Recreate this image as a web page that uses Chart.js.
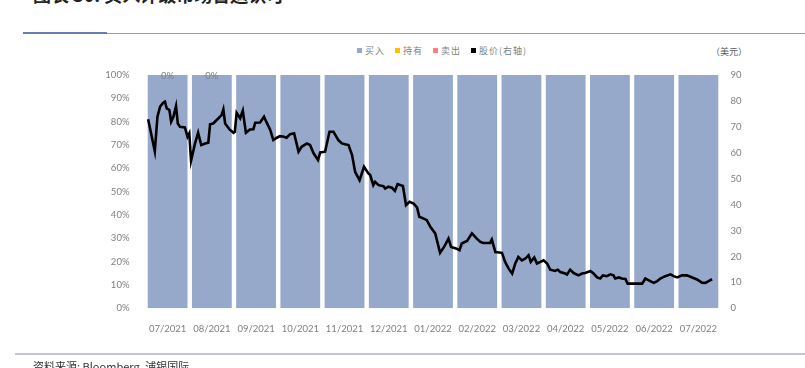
<!DOCTYPE html>
<html>
<head>
<meta charset="utf-8">
<script src="https://cdn.jsdelivr.net/npm/chart.js@4.4.0/dist/chart.umd.min.js"></script>
<style>
    body { margin: 0; width: 805px; height: 368px; overflow: hidden; background: #fff; position: relative; font-family: "Noto Sans CJK SC", sans-serif; }
    #c { position: absolute; left: 0; top: 0; }
    .title { position: absolute; left: 33px; top: -19px; font-size: 18px; font-weight: bold; color: #222; white-space: nowrap; }
    .rule-top { position: absolute; left: 23px; top: 33px; width: 782px; height: 1px; background: #8e9cc6; }
    .rule-top-dark { position: absolute; left: 23px; top: 32px; width: 84px; height: 2px; background: #6a7db3; }
    .rule-bottom { position: absolute; left: 15px; top: 353px; width: 790px; height: 2px; background: #c3c6dd; }
    .source { position: absolute; left: 33px; top: 358px; font-size: 11px; color: #333; white-space: nowrap; }
    .legend { position: absolute; left: 357px; top: 44px; display: flex; font-size: 9px; color: #7f7f7f; letter-spacing: 1px; }
    .legend span { display: flex; align-items: center; margin-right: 10px; }
    .legend i { display: inline-block; width: 5px; height: 5px; margin-right: 3px; }
    .unit { position: absolute; left: 711px; top: 45px; font-size: 9px; color: #595959; }
</style>
</head>
<body>
<div class="title">图表 30: 买入评级市场普遍认可</div>
<div class="rule-top"></div>
<div class="rule-top-dark"></div>
<div class="legend">
    <span><i style="background:#97a9ca"></i>买入</span>
    <span><i style="background:#ffc000"></i>持有</span>
    <span><i style="background:#ff7c80"></i>卖出</span>
    <span><i style="background:#000"></i>股价(右轴)</span>
</div>
<div class="unit">（美元）</div>
<canvas id="c" width="805" height="368"></canvas>
<div class="rule-bottom"></div>
<div class="source">资料来源: Bloomberg, 浦银国际</div>
<script>
const months = ['07/2021', '08/2021', '09/2021', '10/2021', '11/2021', '12/2021', '01/2022',
    '02/2022', '03/2022', '04/2022', '05/2022', '06/2022', '07/2022'];
const buyPct = [100, 100, 100, 100, 100, 100, 100, 100, 100, 100, 100, 100, 100];
const holdPct = [0, 0, 0, 0, 0, 0, 0, 0, 0, 0, 0, 0, 0];
const sellPct = [0, 0, 0, 0, 0, 0, 0, 0, 0, 0, 0, 0, 0];
const topLabels = ['0%', '0%', '', '', '', '', '', '', '', '', '', '', ''];

// share price, x in month units (0 = 07/2021)
const priceX = [-0.44, -0.29, -0.23, -0.17, -0.10, -0.06, -0.02, 0.04, 0.08, 0.13, 0.19, 0.23, 0.28, 0.39, 0.45, 0.49,
    0.53, 0.62, 0.69, 0.76, 0.85, 0.92, 0.96, 1.03, 1.15, 1.22, 1.26, 1.30, 1.40, 1.49, 1.52, 1.56, 1.64, 1.70, 1.77,
    1.86, 1.94, 1.98, 2.09, 2.18, 2.23, 2.32, 2.39, 2.47, 2.54, 2.63, 2.69, 2.77, 2.86, 2.96, 3.03, 3.15, 3.22, 3.30,
    3.40, 3.45, 3.56, 3.66, 3.75, 3.86, 3.94, 4.01, 4.09, 4.17, 4.24, 4.34, 4.44, 4.54, 4.58, 4.65, 4.69, 4.77, 4.88,
    4.92, 4.99, 5.07, 5.14, 5.20, 5.32, 5.39, 5.47, 5.56, 5.64, 5.69, 5.79, 5.86, 5.94, 6.05, 6.16, 6.25, 6.35, 6.41,
    6.52, 6.60, 6.65, 6.77, 6.88, 6.99, 7.07, 7.14, 7.29, 7.33, 7.41, 7.56, 7.63, 7.71, 7.79, 7.86, 7.93, 8.01, 8.09,
    8.16, 8.21, 8.29, 8.35, 8.43, 8.50, 8.58, 8.65, 8.76, 8.82, 8.88, 8.99, 9.03, 9.10, 9.18, 9.29, 9.37, 9.44, 9.56,
    9.63, 9.71, 9.78, 9.84, 9.93, 10.01, 10.08, 10.12, 10.20, 10.27, 10.35, 10.40, 10.54, 10.73, 10.80, 10.88, 10.99,
    11.07, 11.14, 11.25, 11.37, 11.44, 11.52, 11.63, 11.74, 11.86, 11.97, 12.08, 12.16, 12.23, 12.31];
const price = [72.9, 60.6, 73.9, 77.8, 79.3, 79.7, 77.1, 76.5, 72.0, 73.9, 78.0, 71.3, 70.0, 69.8, 66.2, 67.5,
    56.9, 63.6, 67.7, 63.0, 63.6, 63.9, 71.0, 71.3, 73.3, 74.5, 76.7, 71.3, 69.0, 67.7, 68.1, 75.4, 73.3, 76.2, 67.7,
    69.0, 69.1, 71.6, 71.7, 73.9, 72.0, 68.8, 64.9, 65.8, 66.4, 66.2, 65.8, 67.2, 67.5, 60.4, 62.3, 63.6, 63.0, 59.8,
    57.2, 60.1, 60.4, 68.1, 68.1, 64.9, 63.6, 63.3, 63.0, 59.1, 52.6, 49.4, 54.6, 52.0, 51.4, 47.5, 48.8, 47.5, 47.1,
    46.2, 46.9, 46.5, 45.3, 47.9, 47.2, 39.8, 41.1, 40.4, 38.9, 35.3, 34.6, 34.0, 31.4, 28.9, 21.4, 23.7, 26.9, 23.7,
    23.1, 22.4, 25.0, 26.0, 28.9, 26.9, 25.6, 25.2, 25.2, 26.5, 21.7, 21.4, 17.9, 15.3, 13.4, 17.3, 19.8, 18.5, 19.2,
    20.5, 17.9, 19.6, 17.3, 17.9, 18.5, 17.3, 14.9, 14.4, 14.9, 14.0, 13.4, 13.0, 14.9, 13.6, 12.7, 13.4, 13.6, 14.4,
    13.4, 11.9, 11.5, 12.7, 12.4, 13.1, 12.7, 11.5, 11.9, 11.5, 11.3, 9.5, 9.5, 9.5, 11.5, 10.8, 9.8,
    10.5, 11.5, 12.4, 13.1, 12.4, 11.9, 12.7, 12.7, 11.9, 11.1, 9.9, 9.8, 10.5, 11.2];

const tickFont = { family: 'Lato', size: 9.5 };
const tickColor = '#7f7f7f';

// "0%" labels on top of the first bars
const barTopLabels = {
    id: 'barTopLabels',
    afterDatasetsDraw(chart) {
        const ctx = chart.ctx;
        const xs = chart.scales.x, ys = chart.scales.y;
        ctx.save();
        ctx.font = '9.5px Lato';
        ctx.fillStyle = tickColor;
        ctx.textAlign = 'center';
        ctx.textBaseline = 'middle';
        topLabels.forEach((t, i) => {
            if (t) ctx.fillText(t, xs.getPixelForValue(i), ys.getPixelForValue(100) + 1);
        });
        ctx.restore();
    }
};

new Chart(document.getElementById('c').getContext('2d'), {
    type: 'bar',
    data: {
        labels: months,
        datasets: [
            { label: '买入', data: buyPct, backgroundColor: '#97a9ca', borderWidth: 0, stack: 'pct', order: 2 },
            { label: '持有', data: holdPct, backgroundColor: '#ffc000', borderWidth: 0, stack: 'pct', order: 2 },
            { label: '卖出', data: sellPct, backgroundColor: '#ff7c80', borderWidth: 0, stack: 'pct', order: 2 },
            {
                type: 'line',
                label: '股价(右轴)',
                data: priceX.map((x, i) => ({ x: x, y: price[i] })),
                xAxisID: 'xl',
                yAxisID: 'y1',
                borderColor: '#000',
                backgroundColor: '#000',
                borderWidth: 2.6,
                pointRadius: 0,
                tension: 0,
                order: 0
            }
        ]
    },
    options: {
        responsive: false,
        animation: false,
        devicePixelRatio: 1,
        layout: { padding: { top: 75, left: 0, right: 0, bottom: 0 } },
        datasets: { bar: { barPercentage: 0.9, categoryPercentage: 1.0, grouped: false } },
        plugins: { legend: { display: false }, tooltip: { enabled: false } },
        scales: {
            x: {
                stacked: true,
                grid: { display: false },
                border: { display: false },
                ticks: { color: tickColor, font: tickFont, padding: 7, maxRotation: 0, autoSkip: false },
                afterFit: s => { s.height = 59.7; }
            },
            xl: { type: 'linear', min: -0.5, max: 12.5, offset: false, display: false },
            y: {
                stacked: true,
                min: 0,
                max: 100,
                grid: { display: false },
                border: { display: false },
                ticks: { stepSize: 10, color: tickColor, font: tickFont, padding: 8, callback: v => v + '%' },
                afterFit: s => { s.width = 145.5; }
            },
            y1: {
                position: 'right',
                min: 0,
                max: 90,
                grid: { display: false },
                border: { display: false },
                ticks: { stepSize: 10, color: tickColor, font: tickFont, padding: 2 },
                afterFit: s => { s.width = 84.5; }
            }
        }
    },
    plugins: [barTopLabels]
});
</script>
</body>
</html>
